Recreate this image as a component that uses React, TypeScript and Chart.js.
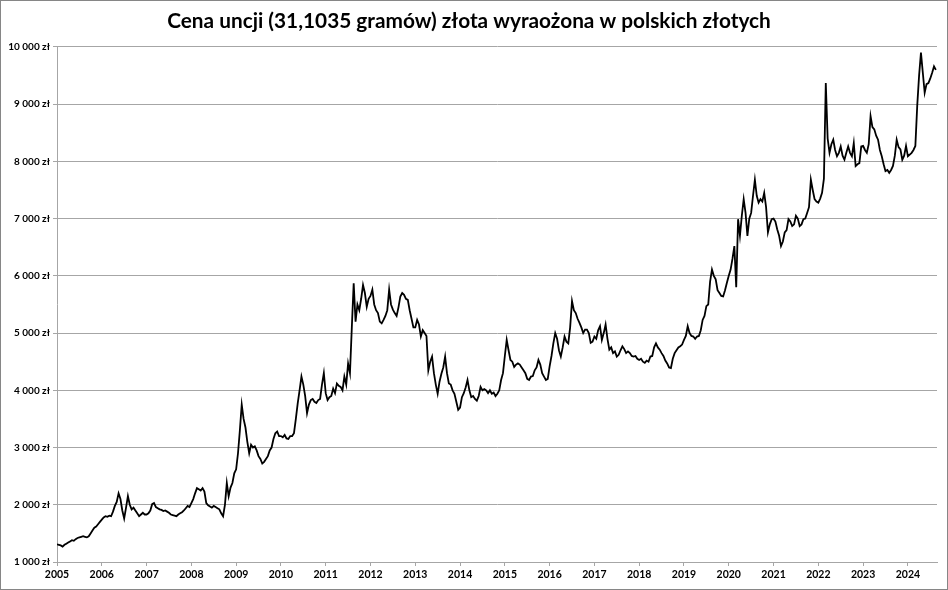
import React, { useEffect, useRef } from 'react';
import { Chart, registerables } from 'chart.js';

Chart.register(...registerables);

// semi-monthly closing prices (zł per ounce)
const y2005 = [1310, 1300, 1290, 1270, 1300, 1320, 1340, 1360, 1380, 1370, 1400, 1420, 1430, 1440, 1450, 1440, 1430, 1450, 1500, 1550, 1600, 1620, 1660, 1700];
const y2006 = [1740, 1780, 1800, 1790, 1810, 1800, 1880, 1980, 2050, 2200, 2100, 1900, 1760, 1950, 2150, 2000, 1920, 1950, 1900, 1850, 1800, 1830, 1860, 1830];
const y2007 = [1830, 1850, 1900, 2010, 2030, 1960, 1940, 1920, 1910, 1890, 1900, 1880, 1860, 1830, 1820, 1810, 1800, 1830, 1850, 1870, 1900, 1940, 1980, 1960];
const y2008 = [2030, 2100, 2200, 2290, 2270, 2250, 2290, 2230, 2030, 1990, 1970, 1950, 1980, 1960, 1940, 1920, 1850, 1800, 2000, 2380, 2150, 2300, 2380, 2550];
const y2009 = [2620, 2900, 3300, 3750, 3500, 3350, 3100, 2900, 3050, 3000, 3020, 2950, 2850, 2800, 2720, 2750, 2800, 2850, 2950, 3000, 3150, 3250, 3280, 3200];
const y2010 = [3200, 3180, 3220, 3160, 3150, 3200, 3200, 3250, 3500, 3770, 4000, 4240, 4100, 3900, 3600, 3750, 3830, 3850, 3800, 3780, 3830, 3850, 4100, 4300];
const y2011 = [3950, 3830, 3880, 3900, 4030, 3950, 4120, 4080, 4060, 4000, 4240, 4100, 4470, 4300, 5100, 5870, 5200, 5500, 5400, 5600, 5840, 5700, 5460, 5600];
const y2012 = [5650, 5760, 5500, 5400, 5350, 5200, 5170, 5230, 5300, 5400, 5760, 5500, 5410, 5350, 5300, 5450, 5640, 5700, 5670, 5600, 5580, 5400, 5250, 5100];
const y2013 = [5100, 5230, 5150, 4940, 5050, 5000, 4950, 4350, 4500, 4590, 4300, 4100, 3940, 4150, 4290, 4400, 4590, 4300, 4120, 4100, 4000, 3940, 3800, 3660];
const y2014 = [3700, 3880, 3950, 4050, 4180, 4000, 3880, 3900, 3850, 3820, 3900, 4060, 4000, 4020, 4000, 3950, 4000, 3940, 3960, 3900, 3940, 4000, 4180, 4300];
const y2015 = [4600, 4880, 4700, 4530, 4500, 4410, 4450, 4470, 4450, 4400, 4350, 4300, 4200, 4180, 4240, 4250, 4350, 4400, 4530, 4450, 4300, 4240, 4180, 4200];
const y2016 = [4420, 4600, 4820, 5000, 4900, 4700, 4590, 4750, 4940, 4850, 4820, 5100, 5560, 5400, 5350, 5250, 5180, 5100, 5000, 5060, 5060, 5000, 4830, 4850];
const y2017 = [4940, 4900, 5050, 5120, 4880, 5000, 5150, 4900, 4710, 4750, 4650, 4680, 4590, 4620, 4700, 4770, 4720, 4650, 4680, 4650, 4600, 4590, 4600, 4550];
const y2018 = [4530, 4550, 4500, 4480, 4520, 4500, 4590, 4600, 4750, 4820, 4750, 4710, 4650, 4600, 4520, 4470, 4400, 4390, 4550, 4650, 4700, 4750, 4770, 4800];
const y2019 = [4880, 4950, 5120, 5000, 4950, 4940, 4900, 4940, 4950, 5050, 5230, 5300, 5470, 5500, 5900, 6110, 6000, 5940, 5750, 5700, 5650, 5640, 5750, 5880];
const y2020 = [6000, 6110, 6300, 6520, 5800, 6990, 6700, 7050, 7340, 7100, 6700, 7000, 7100, 7400, 7680, 7400, 7280, 7340, 7300, 7450, 7200, 6760, 6900, 6990];
const y2021 = [7000, 6950, 6810, 6700, 6520, 6600, 6760, 6800, 6990, 6950, 6870, 6900, 7050, 7000, 6870, 6900, 6990, 7000, 7100, 7200, 7680, 7500, 7340, 7300];
const y2022 = [7280, 7350, 7450, 7700, 9370, 8400, 8150, 8300, 8380, 8200, 8090, 8150, 8260, 8100, 8030, 8150, 8260, 8150, 8090, 8320, 7920, 7950, 7970, 8260];
const y2023 = [8270, 8200, 8150, 8300, 8790, 8600, 8560, 8450, 8380, 8200, 8090, 7950, 7830, 7850, 7800, 7850, 7920, 8100, 8380, 8250, 8210, 8030, 8100, 8270];
const y2024 = [8090, 8120, 8150, 8200, 8270, 8970, 9500, 9900, 9550, 9200, 9350, 9370, 9450, 9550, 9660, 9600];

const years = [2005, 2006, 2007, 2008, 2009, 2010, 2011, 2012, 2013, 2014, 2015, 2016, 2017, 2018, 2019, 2020, 2021, 2022, 2023, 2024];
const series = [y2005, y2006, y2007, y2008, y2009, y2010, y2011, y2012, y2013, y2014, y2015, y2016, y2017, y2018, y2019, y2020, y2021, y2022, y2023, y2024];

const fmtZl = (v: number) => String(v).replace(/\B(?=(\d{3})+(?!\d))/g, ' ') + ' zł';

function App() {
  const canvasRef = useRef<HTMLCanvasElement>(null);

  useEffect(() => {
    document.body.style.margin = '0';
    if (!canvasRef.current) return;

    const points: { x: number; y: number }[] = [];
    series.forEach((vals, i) => {
      vals.forEach((v, j) => points.push({ x: years[i] + j / 24, y: v }));
    });

    const tickFont = { family: 'Lato', size: 10, weight: 'bold' as const };
    const chart = new Chart(canvasRef.current, {
      type: 'line',
      data: {
        datasets: [{
          data: points,
          borderColor: '#000',
          borderWidth: 1.8,
          pointRadius: 0,
          tension: 0,
        }],
      },
      options: {
        animation: false,
        responsive: true,
        maintainAspectRatio: false,
        layout: { padding: { left: 0, right: 10, top: 0, bottom: 0 } },
        plugins: {
          legend: { display: false },
          tooltip: { enabled: false },
          title: {
            display: true,
            text: 'Cena uncji (31,1035 gramów) złota wyraożona w polskich złotych',
            color: '#000',
            font: { family: 'Lato', size: 20.8, weight: 'bold' },
            padding: { top: 8, bottom: 13 },
          },
        },
        scales: {
          x: {
            type: 'linear',
            min: 2005,
            max: 2024.65,
            // one tick per year label, whatever the scale generated
            afterBuildTicks: (s: any) => {
              s.ticks = years.map((y) => ({ value: y }));
            },
            afterFit: (s: any) => { s.height = 27; },
            border: { color: '#a6a6a6' },
            grid: { drawOnChartArea: false, drawTicks: true, tickLength: 4, color: '#a6a6a6' },
            ticks: {
              autoSkip: false,
              maxRotation: 0,
              padding: 2,
              color: '#000',
              font: { ...tickFont, size: 10.5 },
              callback: (v: any) => String(Math.round(Number(v))),
            },
          },
          y: {
            min: 1000,
            max: 10000,
            afterFit: (s: any) => { s.width = 56; },
            border: { color: '#a6a6a6' },
            grid: { color: '#a6a6a6', tickLength: 4 },
            ticks: {
              stepSize: 1000,
              padding: 3,
              color: '#000',
              font: tickFont,
              callback: (v: any) => fmtZl(Number(v)),
            },
          },
        },
      },
    });

    return () => chart.destroy();
  }, []);

  return (
    <div style={{ width: 948, height: 590, boxSizing: 'border-box', border: '1px solid #868686', background: '#fff' }}>
      <div style={{ position: 'relative', width: 946, height: 588 }}>
        <canvas ref={canvasRef}></canvas>
      </div>
    </div>
  );
}

export default App;
